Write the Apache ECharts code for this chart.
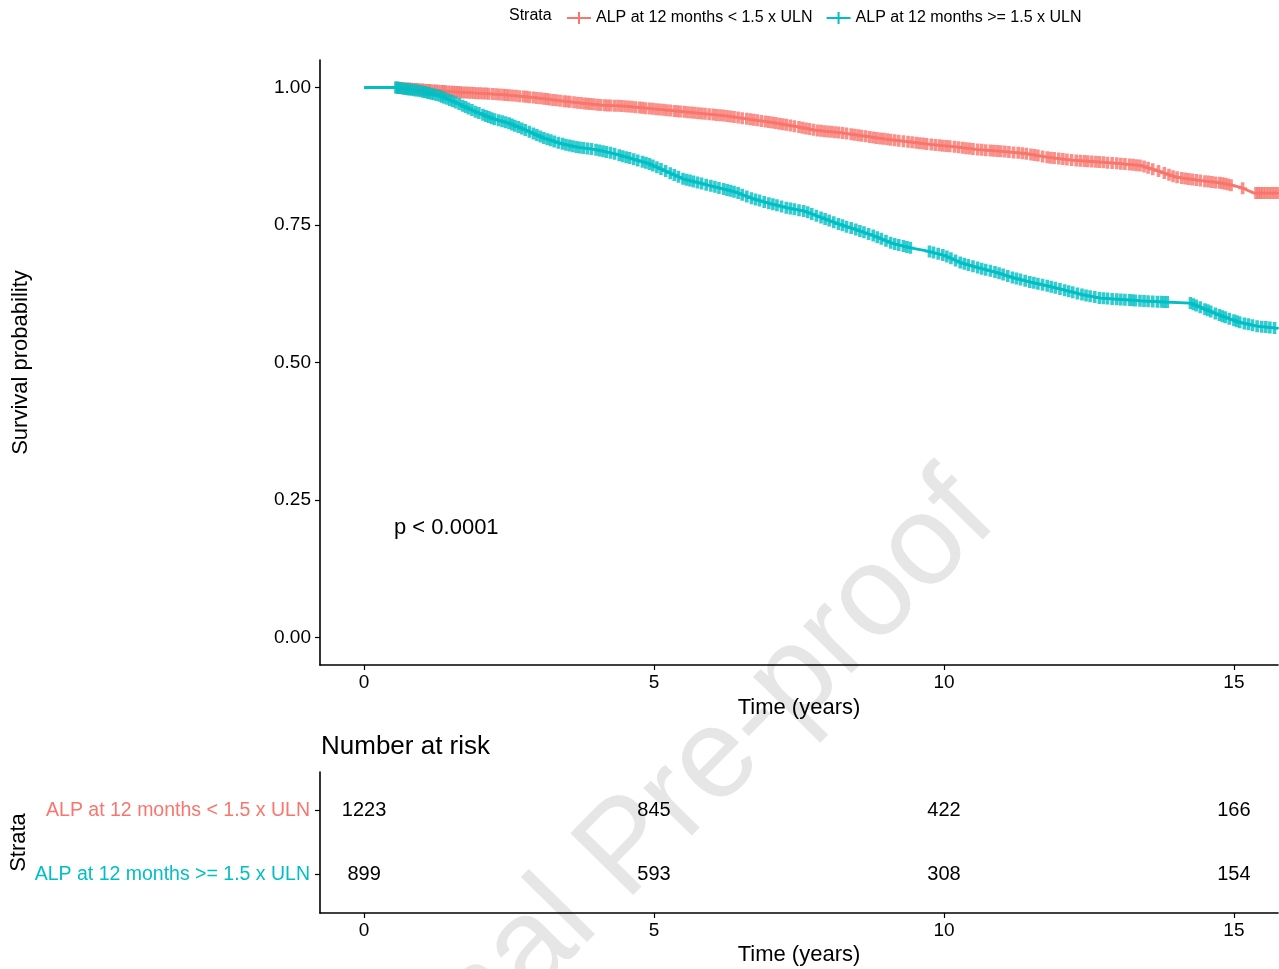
<!DOCTYPE html>
<html>
<head>
<meta charset="utf-8">
<script src="https://cdn.jsdelivr.net/npm/echarts@6/dist/echarts.min.js"></script>
<style>
  html, body { margin: 0; padding: 0; background: #fff; }
  #km { width: 1279px; height: 969px; }
</style>
</head>
<body>
<div id="km"></div>
<script>
// strata names
const strata = ['ALP at 12 months < 1.5 x ULN', 'ALP at 12 months >= 1.5 x ULN'];

// KM curve points, ALP < 1.5 x ULN
const timesLow = [0, 0.55, 0.9, 1.3, 1.7, 2.1, 2.5, 2.9, 3.3, 3.7, 4.1, 4.5, 5.0, 5.4, 5.8, 6.2, 6.6, 7.0, 7.4, 7.8,
  8.2, 8.6, 9.0, 9.4, 9.8, 10.2, 10.6, 11.0, 11.4, 11.8, 12.2, 12.6, 13.0, 13.4, 13.7, 14.0, 14.4, 14.8, 15.1, 15.35, 15.76];
const survLow = [1, 1, 0.997, 0.994, 0.991, 0.989, 0.986, 0.982, 0.977, 0.972, 0.968, 0.966, 0.961, 0.957, 0.953, 0.949, 0.943, 0.937, 0.930, 0.922,
  0.918, 0.912, 0.906, 0.901, 0.896, 0.892, 0.887, 0.884, 0.880, 0.873, 0.868, 0.865, 0.862, 0.858, 0.848, 0.837, 0.831, 0.826, 0.819, 0.808, 0.808];

// KM curve points, ALP >= 1.5 x ULN
const timesHigh = [0, 0.55, 0.8, 1.0, 1.3, 1.6, 1.9, 2.2, 2.5, 2.8, 3.1, 3.4, 3.7, 4.0, 4.3, 4.6, 4.9, 5.2, 5.5, 5.8,
  6.1, 6.4, 6.7, 7.0, 7.3, 7.6, 7.9, 8.2, 8.5, 8.8, 9.1, 9.4, 9.7, 10.0, 10.3, 10.6, 10.9, 11.2, 11.5, 11.8,
  12.1, 12.4, 12.7, 13.0, 13.4, 13.8, 14.25, 14.5, 14.8, 15.1, 15.4, 15.76];
const survHigh = [1, 1, 0.996, 0.993, 0.985, 0.972, 0.957, 0.944, 0.935, 0.922, 0.908, 0.898, 0.891, 0.887, 0.880, 0.871, 0.862, 0.848, 0.834, 0.826,
  0.818, 0.810, 0.798, 0.789, 0.781, 0.775, 0.763, 0.751, 0.741, 0.730, 0.717, 0.709, 0.703, 0.695, 0.681, 0.672, 0.664, 0.654, 0.646, 0.639,
  0.631, 0.623, 0.617, 0.615, 0.612, 0.610, 0.608, 0.597, 0.584, 0.573, 0.566, 0.562];

// censoring times (marked with +)
const censorLow = [0.56, 0.6, 0.63, 0.65, 0.7, 0.74, 0.78, 0.82, 0.85, 0.89, 0.92, 0.96, 1.0, 1.04, 1.08, 1.12, 1.15, 1.2, 1.24, 1.28,
  1.33, 1.37, 1.4, 1.45, 1.5, 1.54, 1.58, 1.62, 1.66, 1.7, 1.75, 1.8, 1.85, 1.9, 1.95, 2.0, 2.05, 2.1, 2.15, 2.22,
  2.28, 2.34, 2.4, 2.45, 2.5, 2.56, 2.62, 2.68, 2.75, 2.8, 2.85, 2.92, 2.98, 3.04, 3.1, 3.15, 3.2, 3.26, 3.32, 3.38,
  3.45, 3.5, 3.55, 3.62, 3.68, 3.74, 3.8, 3.85, 3.9, 3.96, 4.02, 4.08, 4.15, 4.2, 4.25, 4.32, 4.38, 4.44, 4.5, 4.56,
  4.62, 4.68, 4.75, 4.8, 4.85, 4.92, 4.98, 5.04, 5.1, 5.16, 5.22, 5.28, 5.35, 5.4, 5.45, 5.52, 5.58, 5.64, 5.7, 5.76,
  5.82, 5.88, 5.95, 6.02, 6.08, 6.14, 6.2, 6.26, 6.32, 6.38, 6.45, 6.52, 6.6, 6.66, 6.72, 6.78, 6.85, 6.92, 6.98, 7.04,
  7.1, 7.16, 7.22, 7.28, 7.35, 7.42, 7.5, 7.56, 7.62, 7.68, 7.75, 7.82, 7.88, 7.94, 8.0, 8.06, 8.12, 8.18, 8.25, 8.32,
  8.4, 8.46, 8.52, 8.58, 8.65, 8.72, 8.78, 8.84, 8.9, 8.96, 9.02, 9.08, 9.15, 9.22, 9.3, 9.38, 9.45, 9.52, 9.58, 9.64,
  9.7, 9.78, 9.85, 9.92, 9.98, 10.04, 10.1, 10.18, 10.25, 10.32, 10.38, 10.44, 10.5, 10.58, 10.65, 10.72, 10.8, 10.86, 10.92, 10.98,
  11.05, 11.12, 11.2, 11.28, 11.35, 11.42, 11.5, 11.56, 11.62, 11.7, 11.78, 11.84, 11.9, 11.98, 12.05, 12.12, 12.2, 12.28, 12.35, 12.42,
  12.48, 12.55, 12.62, 12.68, 12.75, 12.82, 12.9, 12.98, 13.05, 13.12, 13.2, 13.26, 13.32, 13.38, 13.45, 13.52, 13.6, 13.7, 13.8, 13.88,
  13.95, 14.02, 14.1, 14.16, 14.22, 14.28, 14.35, 14.42, 14.5, 14.56, 14.62, 14.68, 14.75, 14.8, 14.85, 14.9, 14.95, 15.15, 15.38, 15.42,
  15.46, 15.5, 15.55, 15.6, 15.65, 15.7, 15.75];
const censorHigh = [0.55, 0.58, 0.6, 0.64, 0.68, 0.72, 0.75, 0.78, 0.82, 0.86, 0.9, 0.94, 0.98, 1.02, 1.05, 1.09, 1.12, 1.16, 1.2, 1.25,
  1.3, 1.34, 1.38, 1.43, 1.48, 1.53, 1.58, 1.64, 1.7, 1.75, 1.8, 1.86, 1.92, 1.98, 2.05, 2.1, 2.15, 2.2, 2.25, 2.32,
  2.38, 2.44, 2.5, 2.55, 2.6, 2.66, 2.72, 2.78, 2.85, 2.92, 2.98, 3.04, 3.1, 3.16, 3.22, 3.28, 3.35, 3.42, 3.48, 3.54,
  3.6, 3.66, 3.72, 3.78, 3.85, 3.92, 4.0, 4.06, 4.12, 4.18, 4.25, 4.32, 4.4, 4.46, 4.52, 4.58, 4.65, 4.72, 4.8, 4.86,
  4.92, 4.98, 5.05, 5.12, 5.2, 5.28, 5.35, 5.42, 5.5, 5.56, 5.62, 5.68, 5.75, 5.82, 5.9, 5.98, 6.05, 6.12, 6.2, 6.26,
  6.32, 6.38, 6.45, 6.52, 6.6, 6.68, 6.75, 6.82, 6.9, 6.98, 7.05, 7.12, 7.2, 7.28, 7.35, 7.42, 7.5, 7.58, 7.65, 7.72,
  7.8, 7.88, 7.95, 8.02, 8.1, 8.18, 8.25, 8.32, 8.4, 8.48, 8.55, 8.62, 8.7, 8.78, 8.85, 8.92, 9.0, 9.08, 9.15, 9.22,
  9.3, 9.36, 9.42, 9.75, 9.82, 9.9, 9.98, 10.05, 10.12, 10.2, 10.28, 10.35, 10.42, 10.5, 10.58, 10.65, 10.72, 10.8, 10.88, 10.95,
  11.02, 11.1, 11.18, 11.25, 11.32, 11.4, 11.48, 11.55, 11.62, 11.7, 11.78, 11.85, 11.92, 12.0, 12.08, 12.15, 12.22, 12.3, 12.38, 12.45,
  12.52, 12.6, 12.68, 12.75, 12.82, 12.9, 12.98, 13.05, 13.12, 13.2, 13.25, 13.3, 13.38, 13.45, 13.52, 13.6, 13.68, 13.75, 13.8, 13.85,
  14.25, 14.3, 14.35, 14.42, 14.5, 14.55, 14.6, 14.68, 14.75, 14.8, 14.85, 14.92, 15.0, 15.05, 15.1, 15.18, 15.25, 15.32, 15.4, 15.48,
  15.55, 15.62, 15.7];

// number at risk table
const riskTimes = [0, 5, 10, 15];
const riskLow = [1223, 845, 422, 166];
const riskHigh = [899, 593, 308, 154];

// axis ticks
const xTicks = [0, 5, 10, 15];
const yTicks = [0, 0.25, 0.5, 0.75, 1];

const RED = '#F8766D';
const TEAL = '#00BFC4';
const FONT = "'Liberation Sans', Arial, sans-serif";
const plusMark = 'path://M0,4.2H10V5.8H0Z M3,0H7V10H3Z';

function pairs(ts, ss) {
  return ts.map((t, i) => [t, ss[i]]);
}

// y of a censor mark = value of the curve at that time
function censorPoints(cs, ts, ss) {
  return cs.map((c) => {
    let k = 0;
    for (let i = 0; i < ts.length; i++) {
      if (ts[i] <= c) k = i;
    }
    if (k === ts.length - 1) return [c, ss[k]];
    // mark sits on the drawn segment
    const f = (c - ts[k]) / (ts[k + 1] - ts[k]);
    return [c, ss[k] + (ss[k + 1] - ss[k]) * f];
  });
}

function xAxisFor(grid) {
  return {
    type: 'value', gridIndex: grid, min: -0.76, max: 15.76,
    axisLine: { onZero: false, lineStyle: { color: '#000', width: 1.6 } },
    axisTick: { show: true, length: 5, customValues: xTicks, lineStyle: { color: '#000', width: 1.2 } },
    axisLabel: { customValues: xTicks, fontSize: 19, color: '#000', margin: 8 },
    splitLine: { show: false },
    name: 'Time (years)', nameLocation: 'middle', nameGap: 31,
    nameTextStyle: { fontSize: 22, color: '#000' },
  };
}

const chart = echarts.init(document.getElementById('km'));

const option = {
  animation: false,
  backgroundColor: '#fff',
  textStyle: { fontFamily: FONT },
  grid: [
    { left: 320, right: 1, top: 60, height: 605, outerBoundsMode: 'none' },
    { left: 320, right: 1, top: 772, height: 141, outerBoundsMode: 'none' },
  ],
  legend: {
    data: strata,
    left: 562,
    top: 5,
    itemWidth: 24,
    itemHeight: 12,
    itemGap: 14,
    icon: 'path://M0,5H24V7H0Z M11,0H13V12H11Z',
    textStyle: { fontSize: 16, color: '#000', fontFamily: FONT },
  },
  xAxis: [xAxisFor(0), xAxisFor(1)],
  yAxis: [
    {
      type: 'value', gridIndex: 0, min: -0.05, max: 1.05,
      axisLine: { onZero: false, lineStyle: { color: '#000', width: 1.6 } },
      axisTick: { show: true, length: 5, customValues: yTicks, lineStyle: { color: '#000', width: 1.2 } },
      axisLabel: {
        customValues: yTicks, fontSize: 19, color: '#000', margin: 9,
        formatter: (v) => v.toFixed(2),
      },
      splitLine: { show: false },
      name: 'Survival probability', nameLocation: 'middle', nameGap: 288, nameRotate: 90,
      nameMoveOverlap: false,
      nameTextStyle: { fontSize: 22, color: '#000' },
    },
    {
      type: 'value', gridIndex: 1, min: 0.4, max: 2.6,
      axisLine: { onZero: false, lineStyle: { color: '#000', width: 1.6 } },
      axisTick: { show: true, length: 5, customValues: [1, 2], lineStyle: { color: '#000', width: 1.2 } },
      axisLabel: {
        customValues: [1, 2], margin: 10,
        formatter: (v) => (v === 2 ? '{lo|' + strata[0] + '}' : '{hi|' + strata[1] + '}'),
        rich: {
          lo: { color: RED, fontSize: 19.5, fontFamily: FONT },
          hi: { color: TEAL, fontSize: 19.5, fontFamily: FONT },
        },
      },
      splitLine: { show: false },
      name: 'Strata', nameLocation: 'middle', nameGap: 290, nameRotate: 90,
      nameMoveOverlap: false,
      nameTextStyle: { fontSize: 22, color: '#000' },
    },
  ],
  graphic: [
    {
      type: 'text', x: 628, y: 850, z: -10, silent: true,
      rotation: 45.5 * Math.PI / 180,
      style: {
        text: 'Journal Pre-proof', x: 0, y: 0, align: 'center', verticalAlign: 'middle',
        font: "128px 'Liberation Sans', Arial, sans-serif", fill: '#e6e6e6',
      },
    },
    {
      type: 'text', left: 509, top: 8,
      style: { text: 'Strata', font: "16px 'Liberation Sans', Arial, sans-serif", fill: '#000' },
    },
    {
      type: 'text', left: 394, top: 517,
      style: { text: 'p < 0.0001', font: "22px 'Liberation Sans', Arial, sans-serif", fill: '#000' },
    },
    {
      type: 'text', left: 321, top: 734,
      style: { text: 'Number at risk', font: "26px 'Liberation Sans', Arial, sans-serif", fill: '#000' },
    },
  ],
  series: [
    {
      name: strata[0], type: 'line', xAxisIndex: 0, yAxisIndex: 0,
      data: pairs(timesLow, survLow), symbol: 'none', color: RED,
      lineStyle: { width: 2.8, color: RED }, z: 3,
    },
    {
      name: strata[1], type: 'line', xAxisIndex: 0, yAxisIndex: 0,
      data: pairs(timesHigh, survHigh), symbol: 'none', color: TEAL,
      lineStyle: { width: 2.8, color: TEAL }, z: 4,
    },
    {
      name: 'censor low', type: 'scatter', xAxisIndex: 0, yAxisIndex: 0,
      data: censorPoints(censorLow, timesLow, survLow),
      symbol: plusMark, symbolSize: [9, 12], itemStyle: { color: RED }, z: 3,
    },
    {
      name: 'censor high', type: 'scatter', xAxisIndex: 0, yAxisIndex: 0,
      data: censorPoints(censorHigh, timesHigh, survHigh),
      symbol: plusMark, symbolSize: [9, 12], itemStyle: { color: TEAL }, z: 4,
    },
    {
      name: 'risk', type: 'scatter', xAxisIndex: 1, yAxisIndex: 1,
      symbolSize: 0, itemStyle: { color: 'rgba(0,0,0,0)' },
      data: riskTimes.map((t, i) => [t, 2, riskLow[i]]).concat(riskTimes.map((t, i) => [t, 1, riskHigh[i]])),
      label: {
        show: true, position: 'inside', fontSize: 20, color: '#000', opacity: 1, fontFamily: FONT,
        formatter: (p) => String(p.value[2]),
      },
    },
  ],
};

chart.setOption(option);
</script>
</body>
</html>
